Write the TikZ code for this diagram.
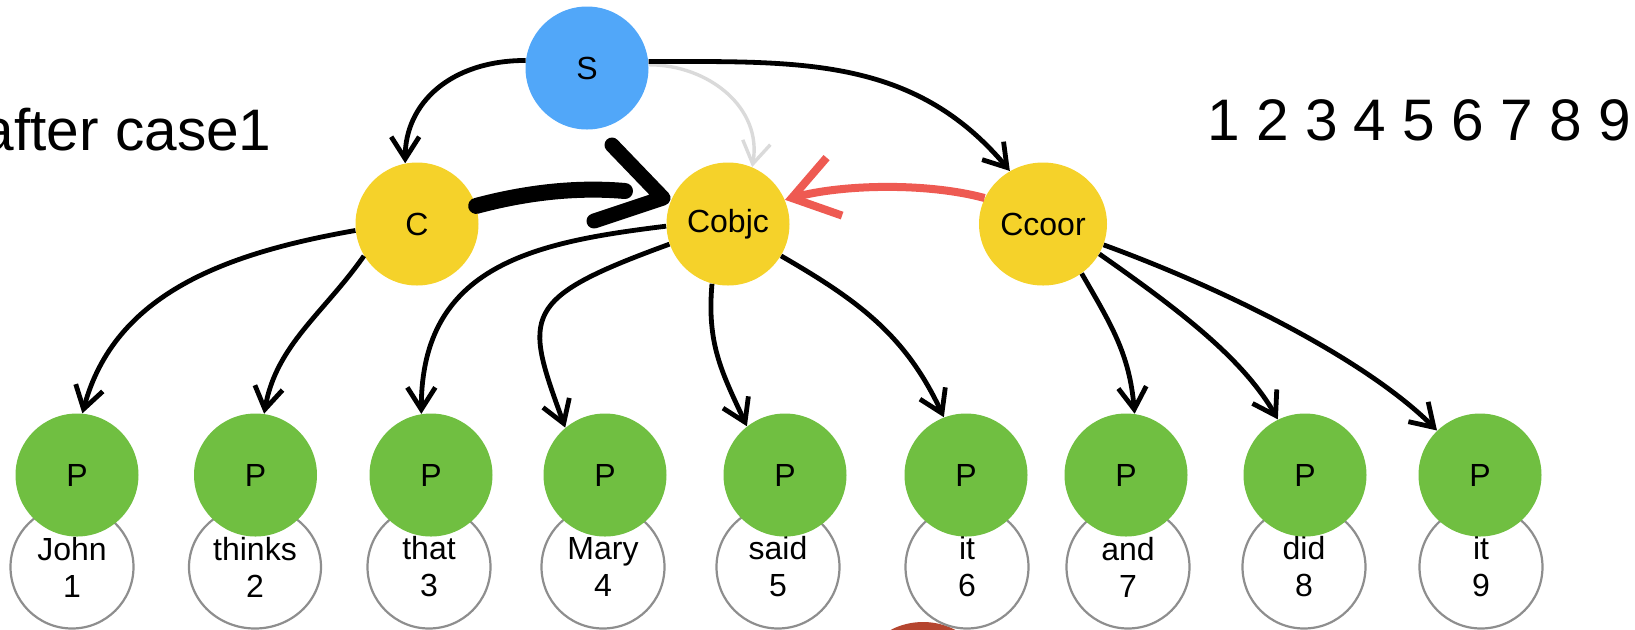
\documentclass[tikz,border=0pt]{standalone}
\usepackage{fontspec}
\setmainfont{Liberation Sans}
\usetikzlibrary{arrows.meta,shapes.geometric}
\definecolor{sblue}{HTML}{51A7F9}
\definecolor{cyel}{HTML}{F5D22A}
\definecolor{pgreen}{HTML}{70BF41}
\definecolor{wgray}{HTML}{8E8E8E}
\definecolor{lgray}{HTML}{DADADA}
\definecolor{redarr}{HTML}{EE5A52}
\definecolor{brownred}{HTML}{B5452F}
\newcommand\labfont{\fontsize{16}{18.5}\selectfont}
\newcommand\bigfont{\fontsize{29.3}{35}\selectfont}
\begin{document}
\begin{tikzpicture}[x=0.5pt,y=0.5pt,
 nodebase/.style={circle, inner sep=0pt, minimum size=61.5pt, font=\labfont},
 snode/.style={nodebase, fill=sblue},
 cnode/.style={nodebase, fill=cyel},
 pnode/.style={nodebase, fill=pgreen},
 wnode/.style={ellipse, inner sep=0pt, minimum width=61.5pt, minimum height=61.5pt, draw=wgray, line width=1.1pt, fill=white, font=\labfont, align=center},
 conn/.style={line width=2.4pt, -{Straight Barb[length=11pt,width=14pt]}},
 grayconn/.style={line width=1.7pt, draw=lgray, -{Straight Barb[length=11pt,width=14pt]}},
 redconn/.style={line width=4pt, draw=redarr, -{Straight Barb[length=22pt,width=30pt]}},
 brush/.style={line width=8pt, line cap=round},
 chevron/.style={line width=7.5pt, line cap=round, line join=round},
 bigtext/.style={font=\bigfont, inner sep=0pt}
]
\useasboundingbox (0,0) rectangle (1635,-629);
\clip (0,0) rectangle (1635,-629);

\fill[brownred] (923,-692) circle (70);

\node[bigtext, anchor=base east] (title) at (272,-150) {after case1};
\node[bigtext, anchor=base west] (nums) at (1207,-140) {1 2 3 4 5 6 7 8 9};

% word nodes
\node[wnode] (w1) at (72,-567) {John\\1};
\node[wnode, minimum width=66pt] (w2) at (255,-567) {thinks\\2};
\node[wnode] (w3) at (429,-567) {that\\3};
\node[wnode] (w4) at (603,-567) {Mary\\4};
\node[wnode] (w5) at (778,-567) {said\\5};
\node[wnode] (w6) at (967,-567) {it\\6};
\node[wnode] (w7) at (1128,-567) {and\\7};
\node[wnode] (w8) at (1304,-567) {did\\8};
\node[wnode] (w9) at (1481,-567) {it\\9};

% P nodes
\node[pnode] (p1) at (77,-475) {P};
\node[pnode] (p2) at (255.5,-475) {P};
\node[pnode] (p3) at (431,-475) {P};
\node[pnode] (p4) at (605,-475) {P};
\node[pnode] (p5) at (785,-475) {P};
\node[pnode] (p6) at (966,-475) {P};
\node[pnode] (p7) at (1126,-475) {P};
\node[pnode] (p8) at (1305,-475) {P};
\node[pnode] (p9) at (1480,-475) {P};

% upper nodes
\node[snode] (S) at (587,-68) {S};
\node[cnode] (C) at (417,-224) {C};
\node[cnode] (Cobjc) at (728,-224) {Cobjc};
\node[cnode, shape=ellipse, minimum width=64pt, minimum height=61.5pt] (Ccoor) at (1043,-224) {Ccoor};

% connectors
\draw[grayconn] (S.3) .. controls +(0:60) and +(80:60) .. (Cobjc.67);
\draw[conn] (S.173) .. controls +(180:75) and +(90:60) .. (C.101);
\draw[conn] (S.6) .. controls +(0:150) and +(130:150) .. (Ccoor.122);

\draw[conn] (C.186) .. controls +(190:130) and +(75:125) .. (p1.85);
\draw[conn] (C.211) .. controls +(235:70) and +(80:70) .. (p2.82);
\draw[conn] (Cobjc.182) .. controls +(187:130) and +(90:150) .. (p3.99);
\draw[conn] (Cobjc.199) .. controls +(200:160) and +(110:120) .. (p4.130);
\draw[conn] (Cobjc.255) .. controls +(265:60) and +(115:60) .. (p5.128);
\draw[conn] (Cobjc.329) .. controls +(330:90) and +(115:90) .. (p6.111);
\draw[conn] (Ccoor.308) .. controls +(300:60) and +(95:60) .. (p7.82);
\draw[conn] (Ccoor.332) .. controls +(325:100) and +(120:70) .. (p8.116);
\draw[conn] (Ccoor.341) .. controls +(340:130) and +(135:100) .. (p9.134);

% red arrow
\draw[redconn] (Ccoor.156) .. controls +(165:60) and +(15:60) .. (Cobjc.23);

% thick brush arrow
\coordinate (bend) at (625,-191);
\coordinate (chA) at (612,-145);
\coordinate (chT) at (663,-198);
\coordinate (chB) at (594,-221);
\draw[brush] (C.17) .. controls +(15:50) and +(175:50) .. (bend);
\draw[chevron] (chA) -- (chT) -- (chB);
\end{tikzpicture}
\end{document}
